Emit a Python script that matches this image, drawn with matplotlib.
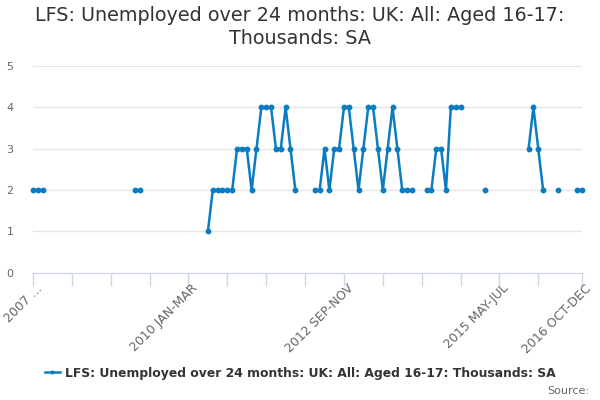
import numpy as np
import matplotlib
matplotlib.use("Agg")
from matplotlib import pyplot as plt

# monthly rolling quarters, 2007 MAY-JUL .. 2016 OCT-DEC (114 periods)
n_periods = 114
known = {
    0: 2, 1: 2, 2: 2,
    21: 2, 22: 2,
    36: 1, 37: 2, 38: 2, 39: 2, 40: 2, 41: 2,
    42: 3, 43: 3, 44: 3, 45: 2, 46: 3, 47: 4, 48: 4, 49: 4,
    50: 3, 51: 3, 52: 4, 53: 3, 54: 2,
    58: 2, 59: 2, 60: 3, 61: 2, 62: 3, 63: 3, 64: 4, 65: 4,
    66: 3, 67: 2, 68: 3, 69: 4, 70: 4, 71: 3, 72: 2, 73: 3,
    74: 4, 75: 3, 76: 2, 77: 2, 78: 2,
    81: 2, 82: 2, 83: 3, 84: 3, 85: 2, 86: 4, 87: 4, 88: 4,
    93: 2,
    102: 3, 103: 4, 104: 3, 105: 2,
    108: 2,
    112: 2, 113: 2,
}
values = [known.get(i, np.nan) for i in range(n_periods)]
label_pos = [0, 32, 64, 96, 113]
label_text = ['2007 ...', '2010 JAN-MAR', '2012 SEP-NOV', '2015 MAY-JUL', '2016 OCT-DEC']

blue = '#0a7dc2'
x = np.arange(n_periods)

fig = plt.figure(figsize=(6, 4), dpi=100)
ax = fig.add_axes([0.055, 0.318, 0.915, 0.517])
ax.plot(x, values, color=blue, lw=1.8, marker='o', ms=3.2, clip_on=False, zorder=5,
        label='LFS: Unemployed over 24 months: UK: All: Aged 16-17: Thousands: SA')

ax.set_xlim(0, 113)
ax.set_ylim(0, 5)
ax.set_yticks(range(0, 6))
ax.grid(axis='y', color='#e6e6e6', lw=1)
ax.set_axisbelow(True)
for s in ['top', 'right', 'left']:
    ax.spines[s].set_visible(False)
ax.spines['bottom'].set_color('#ccd6eb')
ax.tick_params(axis='y', length=0, labelsize=8, labelcolor='#666666', pad=14)

ticks = list(range(0, 105, 8)) + [113]
ax.set_xticks(ticks)
ax.set_xticklabels(['' for t in ticks])
ax.tick_params(axis='x', length=9, color='#ccd6eb', width=1)
for p, t in zip(label_pos, label_text):
    ax.text(p + 0.6, -0.22, t, rotation=45, ha='right', va='top', rotation_mode='anchor',
            fontsize=9, color='#666666', transform=ax.transData)

fig.text(0.5, 0.932, 'LFS: Unemployed over 24 months: UK: All: Aged 16-17:\nThousands: SA',
         ha='center', va='center', fontsize=13.8, color='#333333', linespacing=1.3)

leg = fig.legend(loc='center', bbox_to_anchor=(0.5, 0.067), frameon=False,
                 prop={'weight': 'bold', 'size': 8.9}, handlelength=1.2, handletextpad=0.4,
                 markerscale=0.6)
for t in leg.get_texts():
    t.set_color('#333333')
fig.text(0.982, 0.022, 'Source:', ha='right', va='center', fontsize=8, color='#666666')

fig.savefig('out.png', dpi=100)
